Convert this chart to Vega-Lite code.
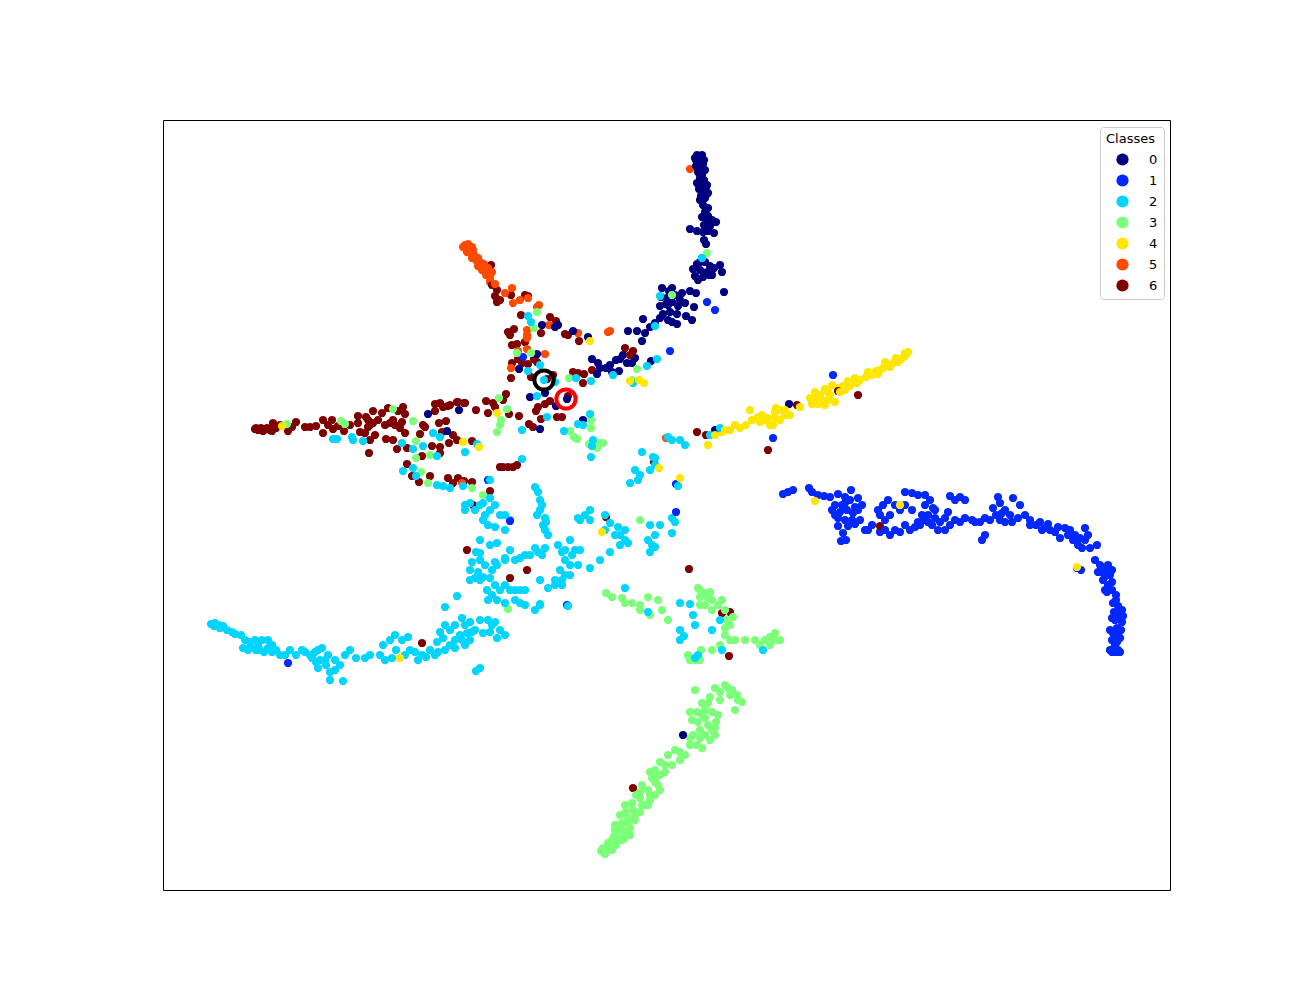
{"$schema":"https://vega.github.io/schema/vega-lite/v6.json","autosize":{"type":"none"},"width":1007,"height":770,"padding":{"left":163,"top":120,"right":130,"bottom":110},"background":"white","view":{"stroke":"black","strokeWidth":1,"fill":"white"},"config":{"font":"DejaVu Sans"},
"encoding":{"x":{"field":"x","type":"quantitative","scale":{"domain":[163,1170],"nice":false,"zero":false},"axis":null},"y":{"field":"y","type":"quantitative","scale":{"domain":[890,120],"nice":false,"zero":false},"axis":null}},
"layer":[{"data":{"values":[
{"x":256,"y":428,"c":"6"},{"x":280,"y":425,"c":"6"},{"x":370,"y":425,"c":"6"},{"x":378,"y":420,"c":"6"},{"x":385,"y":425,"c":"6"},{"x":393,"y":420,"c":"6"},{"x":350,"y":425,"c":"6"},
{"x":463,"y":247,"c":"5"},{"x":467,"y":252,"c":"5"},{"x":473,"y":250,"c":"5"},{"x":478,"y":258,"c":"5"},{"x":484,"y":270,"c":"5"},{"x":489,"y":272,"c":"5"},{"x":472,"y":258,"c":"5"},{"x":490,"y":282,"c":"5"},
{"x":696,"y":160,"c":"0"},{"x":707,"y":185,"c":"0"},{"x":706,"y":195,"c":"0"},{"x":700,"y":200,"c":"0"},{"x":707,"y":222,"c":"0"},{"x":700,"y":262,"c":"0"},{"x":712,"y":275,"c":"0"},{"x":720,"y":265,"c":"0"},{"x":698,"y":280,"c":"0"},{"x":672,"y":288,"c":"0"},{"x":668,"y":305,"c":"0"},{"x":680,"y":300,"c":"0"},{"x":672,"y":322,"c":"0"},{"x":660,"y":318,"c":"0"},{"x":610,"y":365,"c":"0"},{"x":623,"y":355,"c":"0"},{"x":635,"y":358,"c":"0"},{"x":600,"y":368,"c":"0"},{"x":612,"y":372,"c":"0"},
{"x":1085,"y":540,"c":"1"},{"x":1080,"y":538,"c":"1"},{"x":1070,"y":530,"c":"1"},{"x":1058,"y":527,"c":"1"},{"x":1048,"y":524,"c":"1"},{"x":1042,"y":530,"c":"1"},{"x":1030,"y":525,"c":"1"},{"x":1018,"y":518,"c":"1"},{"x":1012,"y":522,"c":"1"},{"x":1005,"y":522,"c":"1"},{"x":996,"y":515,"c":"1"},{"x":1002,"y":513,"c":"1"},{"x":975,"y":522,"c":"1"},{"x":960,"y":522,"c":"1"},{"x":950,"y":525,"c":"1"},{"x":945,"y":518,"c":"1"},{"x":925,"y":520,"c":"1"},{"x":922,"y":515,"c":"1"},{"x":935,"y":510,"c":"1"},{"x":925,"y":505,"c":"1"},{"x":918,"y":522,"c":"1"},{"x":900,"y":532,"c":"1"},{"x":880,"y":532,"c":"1"},{"x":872,"y":525,"c":"1"},{"x":865,"y":530,"c":"1"},{"x":858,"y":510,"c":"1"},{"x":853,"y":513,"c":"1"},{"x":845,"y":503,"c":"1"},{"x":835,"y":515,"c":"1"},{"x":1112,"y":582,"c":"1"},{"x":1116,"y":600,"c":"1"},{"x":1118,"y":612,"c":"1"},{"x":1123,"y":616,"c":"1"},{"x":1112,"y":618,"c":"1"},{"x":1110,"y":630,"c":"1"},{"x":1120,"y":638,"c":"1"},{"x":1115,"y":645,"c":"1"},{"x":1110,"y":650,"c":"1"},{"x":1116,"y":652,"c":"1"},{"x":1120,"y":652,"c":"1"},{"x":1105,"y":576,"c":"1"},{"x":1102,"y":572,"c":"1"},{"x":1107,"y":592,"c":"1"},
{"x":601,"y":851,"c":"3"},{"x":605,"y":854,"c":"3"},{"x":612,"y":850,"c":"3"},{"x":616,"y":845,"c":"3"},{"x":622,"y":840,"c":"3"},{"x":612,"y":840,"c":"3"},{"x":625,"y":838,"c":"3"},{"x":630,"y":835,"c":"3"},{"x":622,"y":830,"c":"3"},{"x":615,"y":830,"c":"3"},{"x":628,"y":823,"c":"3"},{"x":635,"y":815,"c":"3"},{"x":642,"y":805,"c":"3"},{"x":650,"y":795,"c":"3"},{"x":648,"y":805,"c":"3"},{"x":640,"y":792,"c":"3"},{"x":655,"y":782,"c":"3"},{"x":660,"y":775,"c":"3"},{"x":655,"y":778,"c":"3"},{"x":665,"y":765,"c":"3"},{"x":680,"y":752,"c":"3"},{"x":690,"y":738,"c":"3"},{"x":700,"y":738,"c":"3"},{"x":705,"y":735,"c":"3"},{"x":712,"y":730,"c":"3"},{"x":698,"y":722,"c":"3"},{"x":705,"y":718,"c":"3"},{"x":715,"y":728,"c":"3"},{"x":702,"y":715,"c":"3"},{"x":692,"y":720,"c":"3"},{"x":708,"y":703,"c":"3"},{"x":720,"y":692,"c":"3"},{"x":728,"y":688,"c":"3"},{"x":738,"y":700,"c":"3"},{"x":730,"y":695,"c":"3"},{"x":698,"y":588,"c":"3"},{"x":712,"y":600,"c":"3"},{"x":705,"y":605,"c":"3"},{"x":640,"y":610,"c":"3"},{"x":700,"y":605,"c":"3"},{"x":765,"y":640,"c":"3"},{"x":775,"y":640,"c":"3"},{"x":727,"y":620,"c":"3"},{"x":725,"y":628,"c":"3"},{"x":730,"y":640,"c":"3"},{"x":700,"y":660,"c":"3"},{"x":688,"y":655,"c":"3"},{"x":701,"y":650,"c":"3"},
{"x":214,"y":626,"c":"2"},{"x":220,"y":628,"c":"2"},{"x":235,"y":634,"c":"2"},{"x":250,"y":647,"c":"2"},{"x":260,"y":650,"c":"2"},{"x":268,"y":648,"c":"2"},{"x":276,"y":650,"c":"2"},{"x":285,"y":655,"c":"2"},{"x":305,"y":652,"c":"2"},{"x":315,"y":652,"c":"2"},{"x":316,"y":662,"c":"2"},{"x":325,"y":660,"c":"2"},{"x":340,"y":665,"c":"2"},{"x":345,"y":655,"c":"2"},{"x":335,"y":670,"c":"2"},{"x":370,"y":655,"c":"2"},{"x":385,"y":660,"c":"2"},{"x":392,"y":658,"c":"2"},{"x":410,"y":650,"c":"2"},{"x":418,"y":660,"c":"2"},{"x":426,"y":657,"c":"2"},{"x":435,"y":655,"c":"2"},{"x":450,"y":645,"c":"2"},{"x":455,"y":640,"c":"2"},{"x":462,"y":640,"c":"2"},{"x":467,"y":633,"c":"2"},{"x":475,"y":630,"c":"2"},{"x":450,"y":630,"c":"2"},{"x":443,"y":638,"c":"2"},{"x":437,"y":642,"c":"2"},{"x":465,"y":625,"c":"2"},{"x":470,"y":622,"c":"2"},{"x":492,"y":625,"c":"2"},{"x":483,"y":633,"c":"2"},{"x":497,"y":638,"c":"2"},{"x":480,"y":580,"c":"2"},{"x":488,"y":600,"c":"2"},{"x":490,"y":578,"c":"2"},{"x":480,"y":560,"c":"2"},{"x":505,"y":560,"c":"2"},{"x":510,"y":550,"c":"2"},{"x":525,"y":555,"c":"2"},{"x":535,"y":548,"c":"2"},{"x":542,"y":555,"c":"2"},{"x":570,"y":540,"c":"2"},{"x":575,"y":550,"c":"2"},{"x":565,"y":550,"c":"2"},{"x":570,"y":565,"c":"2"},{"x":578,"y":565,"c":"2"},{"x":562,"y":585,"c":"2"},{"x":565,"y":575,"c":"2"},{"x":555,"y":580,"c":"2"},{"x":515,"y":590,"c":"2"},{"x":505,"y":585,"c":"2"},{"x":495,"y":585,"c":"2"},{"x":515,"y":600,"c":"2"},{"x":520,"y":603,"c":"2"},{"x":470,"y":580,"c":"2"},{"x":472,"y":562,"c":"2"},{"x":480,"y":553,"c":"2"},{"x":505,"y":530,"c":"2"},{"x":510,"y":520,"c":"2"},{"x":485,"y":515,"c":"2"},{"x":465,"y":510,"c":"2"},{"x":490,"y":510,"c":"2"},{"x":483,"y":520,"c":"2"},{"x":542,"y":505,"c":"2"},{"x":537,"y":515,"c":"2"},{"x":545,"y":530,"c":"2"},{"x":546,"y":522,"c":"2"},{"x":620,"y":535,"c":"2"},{"x":625,"y":530,"c":"2"},{"x":628,"y":543,"c":"2"},{"x":590,"y":520,"c":"2"},{"x":578,"y":518,"c":"2"},{"x":655,"y":535,"c":"2"},{"x":652,"y":545,"c":"2"},{"x":672,"y":518,"c":"2"},{"x":635,"y":470,"c":"2"},
{"x":905,"y":353,"c":"4"},{"x":902,"y":358,"c":"4"},{"x":898,"y":362,"c":"4"},{"x":890,"y":367,"c":"4"},{"x":883,"y":368,"c":"4"},{"x":878,"y":374,"c":"4"},{"x":866,"y":377,"c":"4"},{"x":855,"y":378,"c":"4"},{"x":852,"y":382,"c":"4"},{"x":848,"y":381,"c":"4"},{"x":843,"y":386,"c":"4"},{"x":838,"y":388,"c":"4"},{"x":828,"y":392,"c":"4"},{"x":820,"y":395,"c":"4"},{"x":818,"y":404,"c":"4"},{"x":828,"y":400,"c":"4"},{"x":825,"y":405,"c":"4"},{"x":815,"y":398,"c":"4"},{"x":790,"y":415,"c":"4"},{"x":775,"y":418,"c":"4"},{"x":765,"y":420,"c":"4"},{"x":760,"y":422,"c":"4"},{"x":746,"y":425,"c":"4"},{"x":730,"y":430,"c":"4"},{"x":722,"y":432,"c":"4"},{"x":758,"y":417,"c":"4"},{"x":785,"y":415,"c":"4"},{"x":776,"y":408,"c":"4"},
{"x":255,"y":429,"c":"6"},{"x":258,"y":430,"c":"6"},{"x":261,"y":428,"c":"6"},{"x":264,"y":430,"c":"6"},{"x":267,"y":428,"c":"6"},{"x":270,"y":430,"c":"6"},{"x":273,"y":429,"c":"6"},{"x":276,"y":428,"c":"6"},{"x":272,"y":431,"c":"6"},{"x":263,"y":431,"c":"6"},{"x":273,"y":423,"c":"6"},{"x":296,"y":422,"c":"6"},{"x":292,"y":427,"c":"6"},{"x":288,"y":431,"c":"6"},{"x":305,"y":427,"c":"6"},{"x":310,"y":427,"c":"6"},{"x":316,"y":426,"c":"6"},{"x":323,"y":420,"c":"6"},{"x":323,"y":433,"c":"6"},{"x":332,"y":420,"c":"6"},{"x":328,"y":425,"c":"6"},{"x":333,"y":429,"c":"6"},{"x":338,"y":426,"c":"6"},{"x":344,"y":431,"c":"6"},{"x":358,"y":416,"c":"6"},{"x":358,"y":423,"c":"6"},{"x":366,"y":417,"c":"6"},{"x":368,"y":420,"c":"6"},{"x":373,"y":411,"c":"6"},{"x":382,"y":413,"c":"6"},{"x":388,"y":408,"c":"6"},{"x":403,"y":407,"c":"6"},{"x":398,"y":411,"c":"6"},{"x":405,"y":414,"c":"6"},{"x":373,"y":423,"c":"6"},{"x":368,"y":427,"c":"6"},{"x":360,"y":432,"c":"6"},{"x":365,"y":433,"c":"6"},{"x":375,"y":435,"c":"6"},{"x":370,"y":440,"c":"6"},{"x":369,"y":453,"c":"6"},{"x":390,"y":423,"c":"6"},{"x":395,"y":425,"c":"6"},{"x":402,"y":422,"c":"6"},{"x":400,"y":428,"c":"6"},{"x":405,"y":433,"c":"6"},{"x":386,"y":439,"c":"6"},{"x":393,"y":440,"c":"6"},{"x":397,"y":449,"c":"6"},{"x":407,"y":448,"c":"6"},{"x":423,"y":425,"c":"6"},{"x":425,"y":427,"c":"6"},{"x":420,"y":434,"c":"6"},{"x":439,"y":423,"c":"6"},{"x":446,"y":421,"c":"6"},{"x":435,"y":404,"c":"6"},{"x":440,"y":403,"c":"6"},{"x":435,"y":411,"c":"6"},{"x":450,"y":405,"c":"6"},{"x":457,"y":402,"c":"6"},{"x":464,"y":403,"c":"6"},{"x":476,"y":410,"c":"6"},{"x":442,"y":432,"c":"6"},{"x":453,"y":435,"c":"6"},{"x":449,"y":443,"c":"6"},{"x":457,"y":440,"c":"6"},{"x":432,"y":446,"c":"6"},{"x":440,"y":447,"c":"6"},{"x":440,"y":453,"c":"6"},{"x":472,"y":441,"c":"6"},{"x":422,"y":456,"c":"6"},{"x":407,"y":464,"c":"6"},{"x":412,"y":476,"c":"6"},{"x":430,"y":476,"c":"6"},{"x":419,"y":482,"c":"6"},{"x":448,"y":478,"c":"6"},{"x":453,"y":483,"c":"6"},{"x":458,"y":478,"c":"6"},{"x":464,"y":481,"c":"6"},{"x":472,"y":482,"c":"6"},{"x":490,"y":491,"c":"6"},{"x":473,"y":505,"c":"6"},{"x":500,"y":467,"c":"6"},{"x":503,"y":467,"c":"6"},{"x":508,"y":467,"c":"6"},{"x":513,"y":467,"c":"6"},{"x":517,"y":465,"c":"6"},{"x":492,"y":285,"c":"6"},{"x":497,"y":290,"c":"6"},{"x":495,"y":296,"c":"6"},{"x":500,"y":300,"c":"6"},{"x":511,"y":295,"c":"6"},{"x":525,"y":295,"c":"6"},{"x":528,"y":296,"c":"6"},{"x":491,"y":265,"c":"6"},{"x":521,"y":315,"c":"6"},{"x":497,"y":302,"c":"6"},{"x":508,"y":332,"c":"6"},{"x":514,"y":329,"c":"6"},{"x":510,"y":335,"c":"6"},{"x":512,"y":345,"c":"6"},{"x":517,"y":344,"c":"6"},{"x":525,"y":342,"c":"6"},{"x":541,"y":333,"c":"6"},{"x":550,"y":317,"c":"6"},{"x":556,"y":321,"c":"6"},{"x":565,"y":334,"c":"6"},{"x":568,"y":335,"c":"6"},{"x":579,"y":341,"c":"6"},{"x":625,"y":348,"c":"6"},{"x":633,"y":351,"c":"6"},{"x":630,"y":355,"c":"6"},{"x":518,"y":359,"c":"6"},{"x":512,"y":363,"c":"6"},{"x":522,"y":363,"c":"6"},{"x":528,"y":364,"c":"6"},{"x":534,"y":359,"c":"6"},{"x":537,"y":362,"c":"6"},{"x":531,"y":377,"c":"6"},{"x":553,"y":375,"c":"6"},{"x":547,"y":379,"c":"6"},{"x":573,"y":372,"c":"6"},{"x":578,"y":373,"c":"6"},{"x":584,"y":374,"c":"6"},{"x":583,"y":383,"c":"6"},{"x":592,"y":370,"c":"6"},{"x":511,"y":378,"c":"6"},{"x":506,"y":394,"c":"6"},{"x":503,"y":400,"c":"6"},{"x":493,"y":403,"c":"6"},{"x":486,"y":401,"c":"6"},{"x":495,"y":407,"c":"6"},{"x":488,"y":413,"c":"6"},{"x":509,"y":414,"c":"6"},{"x":519,"y":416,"c":"6"},{"x":538,"y":407,"c":"6"},{"x":536,"y":411,"c":"6"},{"x":545,"y":404,"c":"6"},{"x":550,"y":401,"c":"6"},{"x":541,"y":419,"c":"6"},{"x":557,"y":417,"c":"6"},{"x":562,"y":417,"c":"6"},{"x":529,"y":424,"c":"6"},{"x":533,"y":427,"c":"6"},{"x":568,"y":396,"c":"6"},{"x":458,"y":402,"c":"6"},{"x":465,"y":403,"c":"6"},{"x":448,"y":406,"c":"6"},{"x":443,"y":407,"c":"6"},{"x":689,"y":569,"c":"6"},{"x":722,"y":613,"c":"6"},{"x":730,"y":612,"c":"6"},{"x":729,"y":656,"c":"6"},{"x":467,"y":550,"c":"6"},{"x":510,"y":578,"c":"6"},{"x":527,"y":570,"c":"6"},{"x":422,"y":643,"c":"6"},{"x":633,"y":788,"c":"6"},{"x":768,"y":450,"c":"6"},{"x":797,"y":405,"c":"6"},{"x":880,"y":526,"c":"6"},{"x":838,"y":391,"c":"6"},{"x":858,"y":395,"c":"6"},{"x":706,"y":435,"c":"6"},{"x":697,"y":432,"c":"6"},{"x":606,"y":517,"c":"6"},{"x":654,"y":462,"c":"6"},
{"x":690,"y":169,"c":"5"},{"x":465,"y":245,"c":"5"},{"x":468,"y":244,"c":"5"},{"x":472,"y":247,"c":"5"},{"x":466,"y":249,"c":"5"},{"x":470,"y":252,"c":"5"},{"x":474,"y":255,"c":"5"},{"x":470,"y":247,"c":"5"},{"x":476,"y":260,"c":"5"},{"x":480,"y":262,"c":"5"},{"x":484,"y":264,"c":"5"},{"x":478,"y":266,"c":"5"},{"x":482,"y":270,"c":"5"},{"x":488,"y":268,"c":"5"},{"x":486,"y":275,"c":"5"},{"x":490,"y":278,"c":"5"},{"x":492,"y":272,"c":"5"},{"x":495,"y":284,"c":"5"},{"x":505,"y":293,"c":"5"},{"x":512,"y":288,"c":"5"},{"x":520,"y":300,"c":"5"},{"x":528,"y":298,"c":"5"},{"x":537,"y":307,"c":"5"},{"x":539,"y":305,"c":"5"},{"x":527,"y":330,"c":"5"},{"x":527,"y":335,"c":"5"},{"x":527,"y":338,"c":"5"},{"x":518,"y":351,"c":"5"},{"x":527,"y":349,"c":"5"},{"x":545,"y":354,"c":"5"},{"x":511,"y":368,"c":"5"},{"x":549,"y":325,"c":"5"},{"x":513,"y":303,"c":"5"},{"x":578,"y":333,"c":"5"},{"x":610,"y":331,"c":"5"},{"x":608,"y":332,"c":"5"},{"x":666,"y":438,"c":"5"},{"x":462,"y":483,"c":"5"},
{"x":697,"y":155,"c":"0"},{"x":702,"y":155,"c":"0"},{"x":695,"y":158,"c":"0"},{"x":700,"y":158,"c":"0"},{"x":704,"y":160,"c":"0"},{"x":698,"y":162,"c":"0"},{"x":703,"y":164,"c":"0"},{"x":696,"y":166,"c":"0"},{"x":701,"y":168,"c":"0"},{"x":705,"y":170,"c":"0"},{"x":698,"y":172,"c":"0"},{"x":702,"y":175,"c":"0"},{"x":700,"y":178,"c":"0"},{"x":704,"y":180,"c":"0"},{"x":697,"y":183,"c":"0"},{"x":701,"y":185,"c":"0"},{"x":706,"y":187,"c":"0"},{"x":699,"y":189,"c":"0"},{"x":703,"y":191,"c":"0"},{"x":708,"y":193,"c":"0"},{"x":701,"y":196,"c":"0"},{"x":705,"y":198,"c":"0"},{"x":703,"y":205,"c":"0"},{"x":708,"y":208,"c":"0"},{"x":705,"y":212,"c":"0"},{"x":702,"y":217,"c":"0"},{"x":708,"y":216,"c":"0"},{"x":712,"y":220,"c":"0"},{"x":704,"y":225,"c":"0"},{"x":710,"y":226,"c":"0"},{"x":716,"y":222,"c":"0"},{"x":690,"y":229,"c":"0"},{"x":697,"y":231,"c":"0"},{"x":703,"y":232,"c":"0"},{"x":708,"y":231,"c":"0"},{"x":714,"y":233,"c":"0"},{"x":706,"y":244,"c":"0"},{"x":704,"y":240,"c":"0"},{"x":702,"y":258,"c":"0"},{"x":697,"y":264,"c":"0"},{"x":705,"y":262,"c":"0"},{"x":710,"y":266,"c":"0"},{"x":693,"y":269,"c":"0"},{"x":700,"y":270,"c":"0"},{"x":707,"y":272,"c":"0"},{"x":714,"y":268,"c":"0"},{"x":722,"y":272,"c":"0"},{"x":695,"y":276,"c":"0"},{"x":703,"y":277,"c":"0"},{"x":709,"y":275,"c":"0"},{"x":724,"y":292,"c":"0"},{"x":662,"y":288,"c":"0"},{"x":669,"y":291,"c":"0"},{"x":661,"y":297,"c":"0"},{"x":667,"y":298,"c":"0"},{"x":675,"y":295,"c":"0"},{"x":682,"y":293,"c":"0"},{"x":690,"y":291,"c":"0"},{"x":696,"y":293,"c":"0"},{"x":660,"y":306,"c":"0"},{"x":666,"y":304,"c":"0"},{"x":672,"y":302,"c":"0"},{"x":678,"y":306,"c":"0"},{"x":685,"y":303,"c":"0"},{"x":694,"y":307,"c":"0"},{"x":663,"y":314,"c":"0"},{"x":670,"y":312,"c":"0"},{"x":677,"y":314,"c":"0"},{"x":686,"y":316,"c":"0"},{"x":692,"y":320,"c":"0"},{"x":655,"y":323,"c":"0"},{"x":668,"y":320,"c":"0"},{"x":677,"y":324,"c":"0"},{"x":643,"y":319,"c":"0"},{"x":628,"y":331,"c":"0"},{"x":637,"y":331,"c":"0"},{"x":642,"y":341,"c":"0"},{"x":645,"y":333,"c":"0"},{"x":650,"y":327,"c":"0"},{"x":573,"y":331,"c":"0"},{"x":588,"y":337,"c":"0"},{"x":558,"y":325,"c":"0"},{"x":555,"y":327,"c":"0"},{"x":519,"y":369,"c":"0"},{"x":537,"y":354,"c":"0"},{"x":592,"y":359,"c":"0"},{"x":598,"y":363,"c":"0"},{"x":597,"y":374,"c":"0"},{"x":606,"y":368,"c":"0"},{"x":616,"y":360,"c":"0"},{"x":620,"y":359,"c":"0"},{"x":619,"y":371,"c":"0"},{"x":627,"y":363,"c":"0"},{"x":632,"y":363,"c":"0"},{"x":651,"y":361,"c":"0"},{"x":530,"y":397,"c":"0"},{"x":545,"y":393,"c":"0"},{"x":556,"y":406,"c":"0"},{"x":567,"y":399,"c":"0"},{"x":540,"y":429,"c":"0"},{"x":583,"y":420,"c":"0"},{"x":428,"y":414,"c":"0"},{"x":459,"y":410,"c":"0"},{"x":447,"y":431,"c":"0"},{"x":683,"y":735,"c":"0"},{"x":542,"y":325,"c":"0"},{"x":789,"y":404,"c":"0"},{"x":715,"y":430,"c":"0"},
{"x":783,"y":494,"c":"1"},{"x":788,"y":492,"c":"1"},{"x":793,"y":490,"c":"1"},{"x":809,"y":488,"c":"1"},{"x":812,"y":492,"c":"1"},{"x":818,"y":495,"c":"1"},{"x":824,"y":496,"c":"1"},{"x":830,"y":497,"c":"1"},{"x":838,"y":494,"c":"1"},{"x":845,"y":497,"c":"1"},{"x":851,"y":490,"c":"1"},{"x":835,"y":505,"c":"1"},{"x":842,"y":505,"c":"1"},{"x":850,"y":500,"c":"1"},{"x":858,"y":498,"c":"1"},{"x":832,"y":510,"c":"1"},{"x":840,"y":512,"c":"1"},{"x":847,"y":510,"c":"1"},{"x":855,"y":507,"c":"1"},{"x":862,"y":505,"c":"1"},{"x":838,"y":518,"c":"1"},{"x":845,"y":520,"c":"1"},{"x":852,"y":520,"c":"1"},{"x":860,"y":520,"c":"1"},{"x":848,"y":526,"c":"1"},{"x":855,"y":524,"c":"1"},{"x":838,"y":526,"c":"1"},{"x":843,"y":533,"c":"1"},{"x":846,"y":540,"c":"1"},{"x":841,"y":541,"c":"1"},{"x":868,"y":530,"c":"1"},{"x":878,"y":510,"c":"1"},{"x":883,"y":505,"c":"1"},{"x":888,"y":500,"c":"1"},{"x":880,"y":515,"c":"1"},{"x":885,"y":520,"c":"1"},{"x":890,"y":515,"c":"1"},{"x":895,"y":505,"c":"1"},{"x":900,"y":510,"c":"1"},{"x":905,"y":492,"c":"1"},{"x":912,"y":493,"c":"1"},{"x":918,"y":495,"c":"1"},{"x":905,"y":505,"c":"1"},{"x":912,"y":510,"c":"1"},{"x":925,"y":495,"c":"1"},{"x":930,"y":500,"c":"1"},{"x":933,"y":508,"c":"1"},{"x":928,"y":515,"c":"1"},{"x":935,"y":518,"c":"1"},{"x":940,"y":522,"c":"1"},{"x":945,"y":530,"c":"1"},{"x":932,"y":525,"c":"1"},{"x":938,"y":530,"c":"1"},{"x":950,"y":496,"c":"1"},{"x":955,"y":500,"c":"1"},{"x":960,"y":497,"c":"1"},{"x":965,"y":500,"c":"1"},{"x":948,"y":512,"c":"1"},{"x":955,"y":520,"c":"1"},{"x":885,"y":530,"c":"1"},{"x":890,"y":535,"c":"1"},{"x":895,"y":530,"c":"1"},{"x":905,"y":525,"c":"1"},{"x":910,"y":530,"c":"1"},{"x":915,"y":527,"c":"1"},{"x":920,"y":525,"c":"1"},{"x":928,"y":522,"c":"1"},{"x":965,"y":518,"c":"1"},{"x":972,"y":520,"c":"1"},{"x":980,"y":522,"c":"1"},{"x":985,"y":518,"c":"1"},{"x":990,"y":520,"c":"1"},{"x":998,"y":497,"c":"1"},{"x":1000,"y":503,"c":"1"},{"x":1005,"y":510,"c":"1"},{"x":1010,"y":515,"c":"1"},{"x":1000,"y":520,"c":"1"},{"x":1013,"y":498,"c":"1"},{"x":993,"y":508,"c":"1"},{"x":1020,"y":505,"c":"1"},{"x":1025,"y":515,"c":"1"},{"x":1030,"y":520,"c":"1"},{"x":1036,"y":525,"c":"1"},{"x":1040,"y":522,"c":"1"},{"x":1045,"y":528,"c":"1"},{"x":1050,"y":530,"c":"1"},{"x":1055,"y":532,"c":"1"},{"x":1060,"y":538,"c":"1"},{"x":1065,"y":528,"c":"1"},{"x":1068,"y":535,"c":"1"},{"x":1073,"y":540,"c":"1"},{"x":1078,"y":545,"c":"1"},{"x":1082,"y":548,"c":"1"},{"x":1075,"y":535,"c":"1"},{"x":1088,"y":535,"c":"1"},{"x":1085,"y":528,"c":"1"},{"x":1090,"y":548,"c":"1"},{"x":1097,"y":545,"c":"1"},{"x":1095,"y":560,"c":"1"},{"x":1100,"y":565,"c":"1"},{"x":1105,"y":570,"c":"1"},{"x":1098,"y":572,"c":"1"},{"x":1110,"y":575,"c":"1"},{"x":1108,"y":565,"c":"1"},{"x":1112,"y":570,"c":"1"},{"x":1103,"y":580,"c":"1"},{"x":1108,"y":585,"c":"1"},{"x":1112,"y":590,"c":"1"},{"x":1116,"y":595,"c":"1"},{"x":1105,"y":590,"c":"1"},{"x":1113,"y":603,"c":"1"},{"x":1118,"y":606,"c":"1"},{"x":1122,"y":610,"c":"1"},{"x":1114,"y":612,"c":"1"},{"x":1120,"y":615,"c":"1"},{"x":1115,"y":620,"c":"1"},{"x":1122,"y":622,"c":"1"},{"x":1117,"y":628,"c":"1"},{"x":1121,"y":630,"c":"1"},{"x":1113,"y":633,"c":"1"},{"x":1118,"y":635,"c":"1"},{"x":1112,"y":640,"c":"1"},{"x":1117,"y":642,"c":"1"},{"x":1114,"y":648,"c":"1"},{"x":1118,"y":650,"c":"1"},{"x":1112,"y":652,"c":"1"},{"x":985,"y":535,"c":"1"},{"x":982,"y":540,"c":"1"},{"x":1081,"y":570,"c":"1"},{"x":1077,"y":568,"c":"1"},{"x":833,"y":375,"c":"1"},{"x":773,"y":438,"c":"1"},{"x":510,"y":521,"c":"1"},{"x":288,"y":663,"c":"1"},{"x":488,"y":480,"c":"1"},{"x":676,"y":484,"c":"1"},{"x":567,"y":605,"c":"1"},{"x":676,"y":512,"c":"1"},{"x":707,"y":302,"c":"1"},{"x":715,"y":310,"c":"1"},{"x":670,"y":351,"c":"1"},{"x":523,"y":357,"c":"1"},
{"x":604,"y":853,"c":"3"},{"x":606,"y":850,"c":"3"},{"x":610,"y":848,"c":"3"},{"x":613,"y":845,"c":"3"},{"x":617,"y":842,"c":"3"},{"x":603,"y":848,"c":"3"},{"x":608,"y":843,"c":"3"},{"x":620,"y":838,"c":"3"},{"x":614,"y":836,"c":"3"},{"x":625,"y":832,"c":"3"},{"x":618,"y":830,"c":"3"},{"x":630,"y":828,"c":"3"},{"x":622,"y":823,"c":"3"},{"x":615,"y":825,"c":"3"},{"x":628,"y":818,"c":"3"},{"x":635,"y":820,"c":"3"},{"x":620,"y":815,"c":"3"},{"x":626,"y":812,"c":"3"},{"x":633,"y":810,"c":"3"},{"x":640,"y":812,"c":"3"},{"x":645,"y":805,"c":"3"},{"x":625,"y":805,"c":"3"},{"x":632,"y":803,"c":"3"},{"x":640,"y":798,"c":"3"},{"x":650,"y":800,"c":"3"},{"x":655,"y":795,"c":"3"},{"x":648,"y":790,"c":"3"},{"x":660,"y":790,"c":"3"},{"x":636,"y":795,"c":"3"},{"x":642,"y":785,"c":"3"},{"x":652,"y":778,"c":"3"},{"x":658,"y":785,"c":"3"},{"x":650,"y":772,"c":"3"},{"x":655,"y":770,"c":"3"},{"x":665,"y":772,"c":"3"},{"x":672,"y":765,"c":"3"},{"x":660,"y":762,"c":"3"},{"x":668,"y":755,"c":"3"},{"x":680,"y":760,"c":"3"},{"x":685,"y":755,"c":"3"},{"x":675,"y":750,"c":"3"},{"x":690,"y":745,"c":"3"},{"x":697,"y":745,"c":"3"},{"x":702,"y":748,"c":"3"},{"x":710,"y":740,"c":"3"},{"x":715,"y":735,"c":"3"},{"x":693,"y":735,"c":"3"},{"x":700,"y":730,"c":"3"},{"x":708,"y":725,"c":"3"},{"x":716,"y":722,"c":"3"},{"x":690,"y":712,"c":"3"},{"x":697,"y":712,"c":"3"},{"x":705,"y":710,"c":"3"},{"x":712,"y":712,"c":"3"},{"x":718,"y":715,"c":"3"},{"x":702,"y":703,"c":"3"},{"x":710,"y":697,"c":"3"},{"x":695,"y":690,"c":"3"},{"x":715,"y":688,"c":"3"},{"x":725,"y":685,"c":"3"},{"x":732,"y":690,"c":"3"},{"x":737,"y":695,"c":"3"},{"x":742,"y":702,"c":"3"},{"x":735,"y":710,"c":"3"},{"x":720,"y":700,"c":"3"},{"x":606,"y":593,"c":"3"},{"x":612,"y":597,"c":"3"},{"x":622,"y":598,"c":"3"},{"x":625,"y":603,"c":"3"},{"x":632,"y":603,"c":"3"},{"x":640,"y":605,"c":"3"},{"x":648,"y":597,"c":"3"},{"x":658,"y":600,"c":"3"},{"x":662,"y":610,"c":"3"},{"x":650,"y":615,"c":"3"},{"x":668,"y":620,"c":"3"},{"x":700,"y":590,"c":"3"},{"x":705,"y":593,"c":"3"},{"x":710,"y":592,"c":"3"},{"x":700,"y":597,"c":"3"},{"x":708,"y":598,"c":"3"},{"x":722,"y":600,"c":"3"},{"x":718,"y":605,"c":"3"},{"x":712,"y":610,"c":"3"},{"x":725,"y":610,"c":"3"},{"x":733,"y":617,"c":"3"},{"x":730,"y":625,"c":"3"},{"x":725,"y":635,"c":"3"},{"x":735,"y":640,"c":"3"},{"x":745,"y":640,"c":"3"},{"x":755,"y":640,"c":"3"},{"x":770,"y":637,"c":"3"},{"x":775,"y":633,"c":"3"},{"x":780,"y":640,"c":"3"},{"x":770,"y":645,"c":"3"},{"x":760,"y":645,"c":"3"},{"x":720,"y":645,"c":"3"},{"x":712,"y":650,"c":"3"},{"x":695,"y":660,"c":"3"},{"x":690,"y":660,"c":"3"},{"x":534,"y":328,"c":"3"},{"x":537,"y":312,"c":"3"},{"x":517,"y":353,"c":"3"},{"x":531,"y":353,"c":"3"},{"x":569,"y":378,"c":"3"},{"x":637,"y":369,"c":"3"},{"x":632,"y":380,"c":"3"},{"x":499,"y":398,"c":"3"},{"x":507,"y":409,"c":"3"},{"x":501,"y":420,"c":"3"},{"x":500,"y":425,"c":"3"},{"x":497,"y":432,"c":"3"},{"x":570,"y":431,"c":"3"},{"x":574,"y":437,"c":"3"},{"x":577,"y":439,"c":"3"},{"x":591,"y":420,"c":"3"},{"x":591,"y":428,"c":"3"},{"x":589,"y":444,"c":"3"},{"x":600,"y":443,"c":"3"},{"x":597,"y":448,"c":"3"},{"x":603,"y":443,"c":"3"},{"x":341,"y":421,"c":"3"},{"x":345,"y":424,"c":"3"},{"x":393,"y":409,"c":"3"},{"x":413,"y":421,"c":"3"},{"x":416,"y":441,"c":"3"},{"x":416,"y":458,"c":"3"},{"x":430,"y":455,"c":"3"},{"x":421,"y":472,"c":"3"},{"x":428,"y":483,"c":"3"},{"x":472,"y":488,"c":"3"},{"x":483,"y":495,"c":"3"},{"x":640,"y":520,"c":"3"},{"x":508,"y":609,"c":"3"},{"x":287,"y":424,"c":"3"},{"x":707,"y":253,"c":"3"},{"x":672,"y":295,"c":"3"},
{"x":333,"y":439,"c":"2"},{"x":337,"y":439,"c":"2"},{"x":353,"y":440,"c":"2"},{"x":352,"y":437,"c":"2"},{"x":363,"y":441,"c":"2"},{"x":402,"y":443,"c":"2"},{"x":413,"y":449,"c":"2"},{"x":423,"y":446,"c":"2"},{"x":437,"y":456,"c":"2"},{"x":433,"y":433,"c":"2"},{"x":440,"y":437,"c":"2"},{"x":403,"y":471,"c":"2"},{"x":413,"y":468,"c":"2"},{"x":416,"y":476,"c":"2"},{"x":437,"y":485,"c":"2"},{"x":443,"y":486,"c":"2"},{"x":450,"y":488,"c":"2"},{"x":463,"y":486,"c":"2"},{"x":490,"y":480,"c":"2"},{"x":465,"y":452,"c":"2"},{"x":477,"y":444,"c":"2"},{"x":483,"y":503,"c":"2"},{"x":211,"y":624,"c":"2"},{"x":215,"y":623,"c":"2"},{"x":219,"y":625,"c":"2"},{"x":223,"y":626,"c":"2"},{"x":227,"y":630,"c":"2"},{"x":232,"y":632,"c":"2"},{"x":241,"y":635,"c":"2"},{"x":245,"y":640,"c":"2"},{"x":243,"y":648,"c":"2"},{"x":250,"y":642,"c":"2"},{"x":255,"y":640,"c":"2"},{"x":258,"y":645,"c":"2"},{"x":262,"y":640,"c":"2"},{"x":268,"y":640,"c":"2"},{"x":272,"y":645,"c":"2"},{"x":248,"y":650,"c":"2"},{"x":256,"y":650,"c":"2"},{"x":264,"y":652,"c":"2"},{"x":272,"y":652,"c":"2"},{"x":280,"y":655,"c":"2"},{"x":290,"y":650,"c":"2"},{"x":296,"y":655,"c":"2"},{"x":302,"y":650,"c":"2"},{"x":310,"y":655,"c":"2"},{"x":318,"y":650,"c":"2"},{"x":322,"y":648,"c":"2"},{"x":312,"y":658,"c":"2"},{"x":320,"y":660,"c":"2"},{"x":328,"y":655,"c":"2"},{"x":335,"y":660,"c":"2"},{"x":326,"y":665,"c":"2"},{"x":318,"y":668,"c":"2"},{"x":330,"y":672,"c":"2"},{"x":343,"y":681,"c":"2"},{"x":330,"y":680,"c":"2"},{"x":350,"y":650,"c":"2"},{"x":356,"y":658,"c":"2"},{"x":365,"y":658,"c":"2"},{"x":380,"y":655,"c":"2"},{"x":383,"y":645,"c":"2"},{"x":390,"y":640,"c":"2"},{"x":395,"y":635,"c":"2"},{"x":402,"y":640,"c":"2"},{"x":408,"y":637,"c":"2"},{"x":396,"y":650,"c":"2"},{"x":405,"y":655,"c":"2"},{"x":415,"y":652,"c":"2"},{"x":422,"y":655,"c":"2"},{"x":430,"y":650,"c":"2"},{"x":438,"y":652,"c":"2"},{"x":445,"y":650,"c":"2"},{"x":455,"y":648,"c":"2"},{"x":465,"y":645,"c":"2"},{"x":470,"y":640,"c":"2"},{"x":460,"y":635,"c":"2"},{"x":472,"y":632,"c":"2"},{"x":445,"y":625,"c":"2"},{"x":455,"y":625,"c":"2"},{"x":462,"y":618,"c":"2"},{"x":440,"y":632,"c":"2"},{"x":445,"y":607,"c":"2"},{"x":457,"y":596,"c":"2"},{"x":480,"y":620,"c":"2"},{"x":488,"y":620,"c":"2"},{"x":495,"y":622,"c":"2"},{"x":490,"y":632,"c":"2"},{"x":500,"y":630,"c":"2"},{"x":505,"y":635,"c":"2"},{"x":480,"y":668,"c":"2"},{"x":476,"y":671,"c":"2"},{"x":525,"y":605,"c":"2"},{"x":535,"y":610,"c":"2"},{"x":540,"y":604,"c":"2"},{"x":465,"y":505,"c":"2"},{"x":470,"y":503,"c":"2"},{"x":475,"y":510,"c":"2"},{"x":480,"y":505,"c":"2"},{"x":490,"y":498,"c":"2"},{"x":495,"y":505,"c":"2"},{"x":500,"y":515,"c":"2"},{"x":488,"y":525,"c":"2"},{"x":495,"y":527,"c":"2"},{"x":505,"y":515,"c":"2"},{"x":535,"y":487,"c":"2"},{"x":538,"y":492,"c":"2"},{"x":540,"y":500,"c":"2"},{"x":540,"y":510,"c":"2"},{"x":545,"y":518,"c":"2"},{"x":543,"y":525,"c":"2"},{"x":548,"y":535,"c":"2"},{"x":480,"y":540,"c":"2"},{"x":490,"y":545,"c":"2"},{"x":497,"y":543,"c":"2"},{"x":470,"y":570,"c":"2"},{"x":478,"y":572,"c":"2"},{"x":485,"y":565,"c":"2"},{"x":495,"y":562,"c":"2"},{"x":505,"y":558,"c":"2"},{"x":515,"y":560,"c":"2"},{"x":520,"y":558,"c":"2"},{"x":530,"y":555,"c":"2"},{"x":538,"y":552,"c":"2"},{"x":545,"y":548,"c":"2"},{"x":476,"y":552,"c":"2"},{"x":475,"y":578,"c":"2"},{"x":483,"y":577,"c":"2"},{"x":492,"y":570,"c":"2"},{"x":497,"y":565,"c":"2"},{"x":487,"y":590,"c":"2"},{"x":492,"y":595,"c":"2"},{"x":497,"y":600,"c":"2"},{"x":505,"y":603,"c":"2"},{"x":500,"y":590,"c":"2"},{"x":510,"y":590,"c":"2"},{"x":520,"y":590,"c":"2"},{"x":525,"y":590,"c":"2"},{"x":540,"y":580,"c":"2"},{"x":548,"y":588,"c":"2"},{"x":555,"y":585,"c":"2"},{"x":562,"y":580,"c":"2"},{"x":570,"y":575,"c":"2"},{"x":560,"y":570,"c":"2"},{"x":565,"y":560,"c":"2"},{"x":572,"y":555,"c":"2"},{"x":580,"y":550,"c":"2"},{"x":558,"y":545,"c":"2"},{"x":562,"y":552,"c":"2"},{"x":540,"y":605,"c":"2"},{"x":568,"y":606,"c":"2"},{"x":590,"y":568,"c":"2"},{"x":600,"y":560,"c":"2"},{"x":610,"y":552,"c":"2"},{"x":620,"y":545,"c":"2"},{"x":625,"y":540,"c":"2"},{"x":580,"y":520,"c":"2"},{"x":585,"y":515,"c":"2"},{"x":590,"y":510,"c":"2"},{"x":605,"y":515,"c":"2"},{"x":610,"y":523,"c":"2"},{"x":615,"y":535,"c":"2"},{"x":605,"y":530,"c":"2"},{"x":618,"y":527,"c":"2"},{"x":650,"y":525,"c":"2"},{"x":660,"y":525,"c":"2"},{"x":648,"y":540,"c":"2"},{"x":655,"y":547,"c":"2"},{"x":650,"y":552,"c":"2"},{"x":672,"y":533,"c":"2"},{"x":675,"y":522,"c":"2"},{"x":630,"y":483,"c":"2"},{"x":638,"y":480,"c":"2"},{"x":640,"y":475,"c":"2"},{"x":650,"y":470,"c":"2"},{"x":655,"y":458,"c":"2"},{"x":668,"y":437,"c":"2"},{"x":672,"y":440,"c":"2"},{"x":680,"y":440,"c":"2"},{"x":685,"y":445,"c":"2"},{"x":710,"y":435,"c":"2"},{"x":720,"y":428,"c":"2"},{"x":655,"y":465,"c":"2"},{"x":678,"y":486,"c":"2"},{"x":625,"y":588,"c":"2"},{"x":680,"y":603,"c":"2"},{"x":690,"y":604,"c":"2"},{"x":693,"y":615,"c":"2"},{"x":695,"y":625,"c":"2"},{"x":680,"y":630,"c":"2"},{"x":684,"y":636,"c":"2"},{"x":680,"y":640,"c":"2"},{"x":712,"y":630,"c":"2"},{"x":720,"y":620,"c":"2"},{"x":763,"y":650,"c":"2"},{"x":695,"y":658,"c":"2"},{"x":698,"y":655,"c":"2"},{"x":722,"y":650,"c":"2"},{"x":648,"y":612,"c":"2"},{"x":528,"y":316,"c":"2"},{"x":531,"y":322,"c":"2"},{"x":540,"y":365,"c":"2"},{"x":528,"y":371,"c":"2"},{"x":544,"y":380,"c":"2"},{"x":555,"y":382,"c":"2"},{"x":537,"y":396,"c":"2"},{"x":576,"y":378,"c":"2"},{"x":591,"y":381,"c":"2"},{"x":613,"y":375,"c":"2"},{"x":633,"y":383,"c":"2"},{"x":647,"y":366,"c":"2"},{"x":657,"y":359,"c":"2"},{"x":655,"y":326,"c":"2"},{"x":590,"y":414,"c":"2"},{"x":583,"y":425,"c":"2"},{"x":564,"y":431,"c":"2"},{"x":522,"y":430,"c":"2"},{"x":547,"y":417,"c":"2"},{"x":593,"y":440,"c":"2"},{"x":592,"y":446,"c":"2"},{"x":591,"y":457,"c":"2"},{"x":642,"y":452,"c":"2"},{"x":653,"y":457,"c":"2"},{"x":522,"y":459,"c":"2"},{"x":578,"y":424,"c":"2"},{"x":660,"y":296,"c":"2"},{"x":702,"y":258,"c":"2"},
{"x":908,"y":352,"c":"4"},{"x":905,"y":356,"c":"4"},{"x":900,"y":360,"c":"4"},{"x":896,"y":358,"c":"4"},{"x":893,"y":363,"c":"4"},{"x":888,"y":365,"c":"4"},{"x":885,"y":362,"c":"4"},{"x":880,"y":370,"c":"4"},{"x":876,"y":371,"c":"4"},{"x":872,"y":375,"c":"4"},{"x":868,"y":372,"c":"4"},{"x":860,"y":380,"c":"4"},{"x":857,"y":383,"c":"4"},{"x":850,"y":386,"c":"4"},{"x":845,"y":390,"c":"4"},{"x":840,"y":392,"c":"4"},{"x":832,"y":385,"c":"4"},{"x":825,"y":389,"c":"4"},{"x":815,"y":392,"c":"4"},{"x":830,"y":395,"c":"4"},{"x":822,"y":400,"c":"4"},{"x":835,"y":402,"c":"4"},{"x":810,"y":398,"c":"4"},{"x":812,"y":404,"c":"4"},{"x":800,"y":407,"c":"4"},{"x":785,"y":410,"c":"4"},{"x":780,"y":410,"c":"4"},{"x":775,"y":412,"c":"4"},{"x":768,"y":418,"c":"4"},{"x":762,"y":415,"c":"4"},{"x":770,"y":425,"c":"4"},{"x":780,"y":420,"c":"4"},{"x":750,"y":410,"c":"4"},{"x":752,"y":420,"c":"4"},{"x":740,"y":428,"c":"4"},{"x":735,"y":425,"c":"4"},{"x":725,"y":430,"c":"4"},{"x":715,"y":435,"c":"4"},{"x":708,"y":445,"c":"4"},{"x":815,"y":501,"c":"4"},{"x":773,"y":425,"c":"4"},{"x":497,"y":413,"c":"4"},{"x":590,"y":341,"c":"4"},{"x":630,"y":381,"c":"4"},{"x":639,"y":380,"c":"4"},{"x":644,"y":383,"c":"4"},{"x":463,"y":442,"c":"4"},{"x":479,"y":447,"c":"4"},{"x":282,"y":426,"c":"4"},{"x":400,"y":658,"c":"4"},{"x":1077,"y":567,"c":"4"},{"x":602,"y":532,"c":"4"},{"x":680,"y":478,"c":"4"},{"x":659,"y":468,"c":"4"},{"x":900,"y":505,"c":"4"}
]},"mark":{"type":"circle","size":68,"opacity":1},"encoding":{"color":{"field":"c","type":"nominal","scale":{"domain":["0","1","2","3","4","5","6"],"range":["#00007f","#0028ff","#00d5ff","#7cff79","#ffe600","#ff4a00","#7f0000"]},"legend":{"title":"Classes","orient":"none","legendX":937,"legendY":7,"symbolType":"circle","symbolSize":150,"symbolOpacity":1,"symbolStrokeWidth":0,"symbolOffset":10,"rowPadding":7,"labelFontSize":13,"titleFontSize":13,"titleFontWeight":"normal","labelFont":"DejaVu Sans","titleFont":"DejaVu Sans","labelColor":"#000000","titleColor":"#000000","labelOffset":20,"strokeColor":"#cccccc","fillColor":"#ffffff","cornerRadius":3,"padding":6,"titlePadding":7}}}},
{"data":{"values":[{"x":544,"y":380}]},"mark":{"type":"point","shape":"circle","size":370,"filled":false,"stroke":"#000000","strokeWidth":4,"opacity":1}},
{"data":{"values":[{"x":566,"y":399}]},"mark":{"type":"point","shape":"circle","size":370,"filled":false,"stroke":"#ff0000","strokeWidth":4,"opacity":1}}
]}
